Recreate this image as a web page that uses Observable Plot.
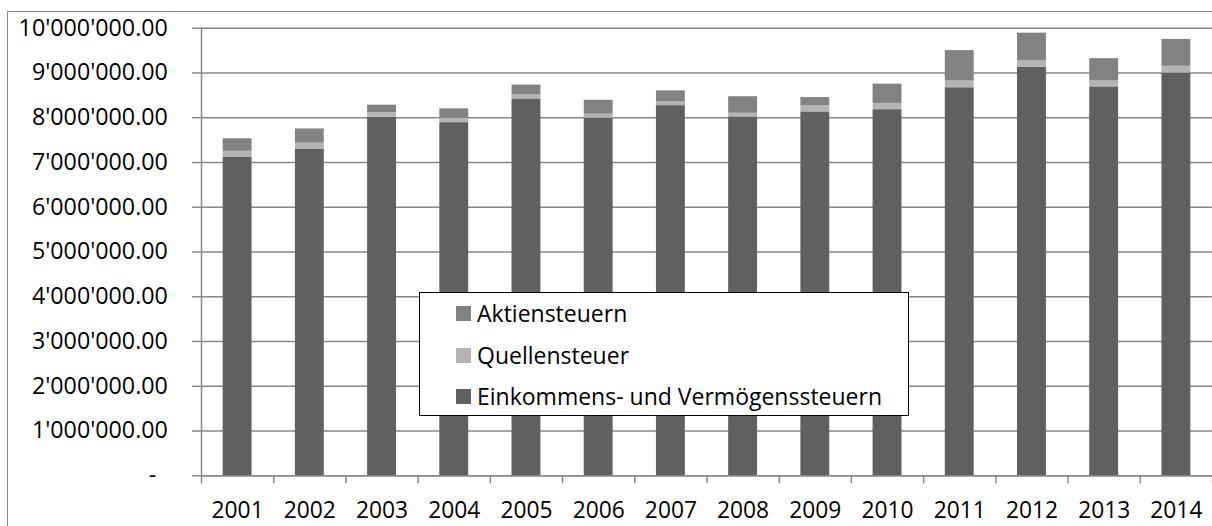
<!DOCTYPE html>
<html>
<head>
<meta charset="utf-8">
<script src="https://cdn.jsdelivr.net/npm/d3@7"></script>
<script src="https://cdn.jsdelivr.net/npm/@observablehq/plot@0.6"></script>
<style>
  html, body { margin: 0; padding: 0; background: #fff; overflow: hidden; width: 1212px; height: 526px; }
  #wrap { position: relative; width: 1212px; height: 526px; overflow: hidden; font-family: "Open Sans", sans-serif; }
  #border { position: absolute; left: 7px; top: 11px; width: 1300px; height: 600px; border-top: 1.5px solid #878787; border-left: 1.5px solid #878787; }
  #chart { position: absolute; left: 0; top: 0; }
  #legend { position: absolute; left: 419px; top: 292px; width: 490px; height: 124px; border: 1px solid #000; background: #fff; box-sizing: border-box; }
  .li { position: absolute; left: 36px; height: 30px; display: flex; align-items: center; font-size: 23px; color: #000; white-space: nowrap; }
  .sw { width: 15px; height: 15px; margin-right: 6px; }
</style>
</head>
<body>
<div id="wrap">
  <div id="border"></div>
  <div id="chart"></div>
  <div id="legend"></div>
</div>
<script>
const years = [2001, 2002, 2003, 2004, 2005, 2006, 2007, 2008, 2009, 2010, 2011, 2012, 2013, 2014];
const einkommen = [7120000, 7290000, 8010000, 7890000, 8420000, 7990000, 8270000, 8020000, 8130000, 8180000, 8670000, 9130000, 8690000, 9000000];
const quellen   = [130000, 140000, 100000, 100000, 90000, 90000, 80000, 80000, 140000, 140000, 150000, 150000, 130000, 150000];
const aktien    = [280000, 320000, 170000, 210000, 220000, 310000, 250000, 370000, 180000, 430000, 680000, 610000, 500000, 600000];
const seriesNames = ["Einkommens- und Vermögenssteuern", "Quellensteuer", "Aktiensteuern"];
const seriesColors = ["#606060", "#b4b4b4", "#828282"];
const yTicks = [0, 1000000, 2000000, 3000000, 4000000, 5000000, 6000000, 7000000, 8000000, 9000000, 10000000];
const legendOrder = ["Aktiensteuern", "Quellensteuer", "Einkommens- und Vermögenssteuern"];

// build stacked rows
const seriesValues = [einkommen, quellen, aktien];
const rows = [];
years.forEach((yr, i) => {
  let base = 0;
  seriesValues.forEach((vals, s) => {
    rows.push({year: yr, series: seriesNames[s], y1: base, y2: base + vals[i]});
    base += vals[i];
  });
});
const boundaries = years.map(y => y - 0.5).concat([years[years.length - 1] + 0.5]);

const fmt = v => v === 0 ? "-\u2002" : d3.format(",.2f")(v).replace(/,/g, "'");
const gridColor = "#878787";

const chart = Plot.plot({
  width: 1224,
  height: 526,
  marginLeft: 203,
  marginRight: 0,
  marginTop: 28,
  marginBottom: 46,
  style: {fontFamily: "'Open Sans', sans-serif", fontSize: "23px", color: "#000", background: "transparent", overflow: "visible"},
  x: {type: "linear", domain: [years[0] - 0.5, years[years.length - 1] + 0.5]},
  y: {type: "linear", domain: [0, 10000000]},
  color: {domain: seriesNames, range: seriesColors},
  marks: [
    Plot.gridY(yTicks, {stroke: gridColor, strokeOpacity: 1, strokeWidth: 1.5}),
    Plot.rectY(rows, {x1: d => d.year - 0.2, x2: d => d.year + 0.2, y1: "y1", y2: "y2", fill: "series"}),
    Plot.axisY(yTicks, {tickSize: 9, tickPadding: 25, stroke: gridColor, strokeWidth: 1.5, tickFormat: fmt, fill: "#000", label: null, fontSize: 23.5}),
    Plot.ruleY([0], {stroke: gridColor, strokeWidth: 1.5}),
    Plot.ruleX([years[0] - 0.5], {stroke: gridColor, strokeWidth: 1.5}),
    Plot.ruleX(boundaries, {x: d => d, y1: 0, y2: 0, insetBottom: -8, stroke: gridColor, strokeWidth: 1.5}),
    Plot.axisX(years, {tickSize: 0, tickPadding: 26, tickFormat: d => String(d), fill: "#000", label: null, fontSize: 23})
  ]
});
document.getElementById("chart").appendChild(chart);

// legend overlay
const legend = document.getElementById("legend");
const rowTops = [5, 47, 88];
legendOrder.forEach((name, i) => {
  const item = document.createElement("div");
  item.className = "li";
  item.style.top = rowTops[i] + "px";
  const sw = document.createElement("div");
  sw.className = "sw";
  sw.style.background = seriesColors[seriesNames.indexOf(name)];
  const t = document.createElement("span");
  t.textContent = name;
  item.appendChild(sw);
  item.appendChild(t);
  legend.appendChild(item);
});
</script>
</body>
</html>
